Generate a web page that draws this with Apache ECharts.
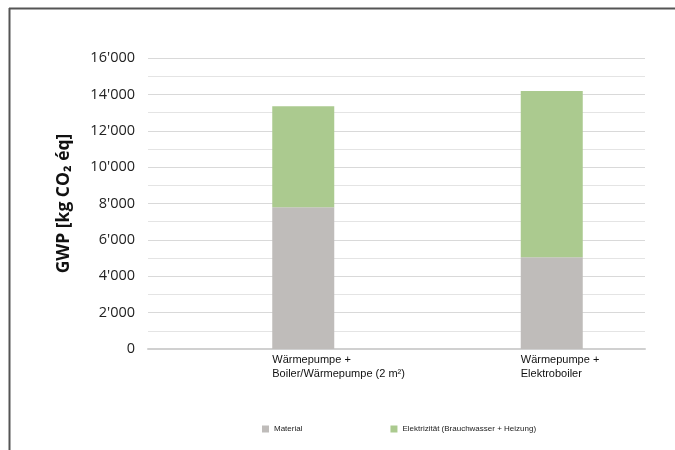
<!DOCTYPE html>
<html>
<head>
<meta charset="utf-8">
<script src="https://cdn.jsdelivr.net/npm/echarts@6/dist/echarts.min.js"></script>
<style>
	html, body { margin: 0; padding: 0; background: #fff; }
	#gwpchart { width: 675px; height: 450px; }
</style>
</head>
<body>
<div id="gwpchart"></div>
<script>
var categories = ['Wärmepumpe +\nBoiler/Wärmepumpe (2 m²)', 'Wärmepumpe +\nElektroboiler'];
var material = [7800, 5050];
var elektrizitaet = [5550, 9130];
var seriesNames = ['Material', 'Elektrizität (Brauchwasser + Heizung)'];
var yMax = 16000;
var yStep = 2000;

function swissNumber(v) {
	// 16000 -> 16'000
	return String(v).replace(/\B(?=(\d{3})+(?!\d))/g, "'");
}

function loadGwpChart() {
	var mychart = echarts.init(document.getElementById('gwpchart'));
	var myoption = {
		backgroundColor: '#ffffff',
		animation: false,
		graphic: [
			{ type: 'line', shape: { x1: 9, y1: 8.5, x2: 675, y2: 8.5 }, style: { stroke: '#555', lineWidth: 2 } },
			{ type: 'line', shape: { x1: 9.5, y1: 8, x2: 9.5, y2: 450 }, style: { stroke: '#555', lineWidth: 2 } }
		],
		grid: {
			left: 148,
			right: 30,
			top: 58,
			bottom: 101
		},
		legend: {
			data: seriesNames,
			left: 257,
			top: 420,
			itemWidth: 7,
			itemHeight: 7,
			itemGap: 88,
			icon: 'rect',
			textStyle: {
				fontFamily: 'Liberation Sans',
				fontSize: 8,
				color: '#222'
			}
		},
		xAxis: {
			type: 'category',
			data: categories,
			axisTick: { show: false },
			axisLine: { lineStyle: { color: '#d0d0d0', width: 2 } },
			axisLabel: {
				align: 'left',
				margin: 4,
				lineHeight: 14,
				fontFamily: 'Liberation Sans',
				fontSize: 11,
				color: '#111'
			}
		},
		yAxis: {
			type: 'value',
			min: 0,
			max: yMax,
			interval: yStep,
			name: 'GWP [kg CO₂ éq]',
			nameLocation: 'middle',
			nameGap: 75,
			nameTextStyle: {
				fontFamily: 'Open Sans',
				fontWeight: 'bold',
				fontSize: 17.5,
				color: '#111'
			},
			axisLabel: {
				formatter: swissNumber,
				margin: 13,
				fontFamily: 'Open Sans',
				fontSize: 14.5,
				color: '#222'
			},
			splitLine: { lineStyle: { color: '#d9d9d9' } },
			minorTick: { show: false, splitNumber: 2 },
			minorSplitLine: { show: true, lineStyle: { color: '#e4e4e4' } }
		},
		series: [
			{
				// leeres Platzhalter-Stack, damit die Säulen rechts der Kategoriemitte stehen
				name: '_pad',
				type: 'bar',
				stack: 'pad',
				barWidth: 62,
				barGap: '0%',
				data: []
			},
			{
				name: seriesNames[0],
				type: 'bar',
				stack: 'gwp',
				barWidth: 62,
				itemStyle: { color: '#bfbcba' },
				data: material
			},
			{
				name: seriesNames[1],
				type: 'bar',
				stack: 'gwp',
				barWidth: 62,
				itemStyle: { color: '#abca8f' },
				data: elektrizitaet
			}
		]
	};
	mychart.setOption(myoption);
}

loadGwpChart();
</script>
</body>
</html>
